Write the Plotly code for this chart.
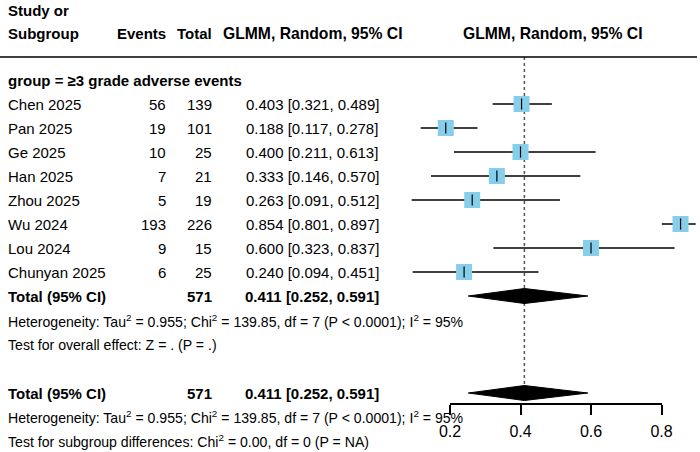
import plotly.graph_objects as go

# ---------------- data ----------------
studies = ["Chen 2025", "Pan 2025", "Ge 2025", "Han 2025", "Zhou 2025",
           "Wu 2024", "Lou 2024", "Chunyan 2025"]
events = [56, 19, 10, 7, 5, 193, 9, 6]
totals = [139, 101, 25, 21, 19, 226, 15, 25]
est = [0.403, 0.188, 0.400, 0.333, 0.263, 0.854, 0.600, 0.240]
ci_lo = [0.321, 0.117, 0.211, 0.146, 0.091, 0.801, 0.323, 0.094]
ci_hi = [0.489, 0.278, 0.613, 0.570, 0.512, 0.897, 0.837, 0.451]
pooled_total = 571
pooled_est = 0.411
pooled_lo = 0.252
pooled_hi = 0.591
tick_vals = [0.2, 0.4, 0.6, 0.8]
tick_text = ["0.2", "0.4", "0.6", "0.8"]
group_label = "group = \u22653 grade adverse events"
het_text = ("Heterogeneity: Tau<sup>2</sup> = 0.955; Chi<sup>2</sup> = 139.85, "
            "df = 7 (P < 0.0001); I<sup>2</sup> = 95%")
overall_text = "Test for overall effect: Z = . (P = .)"
subgroup_text = "Test for subgroup differences: Chi<sup>2</sup> = 0.00, df = 0 (P = NA)"

# ---------------- layout constants ----------------
W, H = 700, 452
AX_L, AX_R = 450, 661.5          # pixel positions of 0.2 and 0.8
PX_PER = (AX_R - AX_L) / 0.6
def px_to_val(px):
    return 0.2 + (px - AX_L) / PX_PER

FONT = "Liberation Sans, Arial, Helvetica, sans-serif"
FS = 15
FSB = 15
FS_HEAD = 15.7
FS_SMALL = 14.1
ROW0, DY = 104, 24
rows_y = [ROW0 + DY * i for i in range(len(studies))]
total_y = ROW0 + DY * len(studies)
het_y = total_y + 25
overall_y = het_y + 24
total2_y = 393
het2_y = 417
sub_y = 441
header_line_y = 57
axis_y = 403
diamond_h = 7.5

fig = go.Figure()

# reference (dotted) line at pooled estimate
fig.add_trace(go.Scatter(x=[pooled_est, pooled_est], y=[header_line_y, total2_y],
                         mode="lines", line=dict(color="#555555", width=1.5, dash="dot"),
                         hoverinfo="skip", showlegend=False))

# CI lines
for y, l, h in zip(rows_y, ci_lo, ci_hi):
    fig.add_trace(go.Scatter(x=[l, h], y=[y, y], mode="lines",
                             line=dict(color="black", width=1.5),
                             hoverinfo="skip", showlegend=False))

# squares
fig.add_trace(go.Scatter(x=est, y=rows_y, mode="markers",
                         marker=dict(symbol="square", size=16, color="#87CEEB",
                                     line=dict(width=0)),
                         hoverinfo="skip", showlegend=False))
# small tick at estimate
fig.add_trace(go.Scatter(x=est, y=rows_y, mode="markers",
                         marker=dict(symbol="line-ns", size=8,
                                     line=dict(width=1.2, color="black")),
                         hoverinfo="skip", showlegend=False))

# diamonds
for yc in [total_y, total2_y]:
    fig.add_trace(go.Scatter(
        x=[pooled_lo, pooled_est, pooled_hi, pooled_est, pooled_lo],
        y=[yc, yc - diamond_h, yc, yc + diamond_h, yc],
        mode="lines", fill="toself", fillcolor="black",
        line=dict(color="black", width=1), hoverinfo="skip", showlegend=False))

# invisible trace for the bottom axis
fig.add_trace(go.Scatter(x=tick_vals, y=[0] * len(tick_vals), xaxis="x2", yaxis="y2",
                         mode="markers", marker=dict(opacity=0),
                         hoverinfo="skip", showlegend=False))

# header line
fig.add_shape(type="line", xref="paper", yref="y", x0=0, x1=697 / W,
              y0=header_line_y, y1=header_line_y, line=dict(color="black", width=1.5))

ann = []
def txt(x_px, y, text, anchor="left", bold=False, size=FS):
    t = f"<b>{text}</b>" if bold else text
    ann.append(dict(x=x_px / W, xref="paper", y=y, yref="y", text=t, showarrow=False,
                    xanchor=anchor, yanchor="middle",
                    font=dict(family=FONT, size=size, color="black")))

LEFT = 6
EV_R, TOT_R, EST_C = 168, 214, 312
# headers
txt(LEFT, 10, "Study or", bold=True, size=FSB)
txt(LEFT, 33, "Subgroup", bold=True, size=FSB)
txt(EV_R, 33, "Events", "right", True, FSB)
txt(TOT_R, 33, "Total", "right", True, FSB)
txt(313, 33, "GLMM, Random, 95% CI", "center", True, FS_HEAD)
txt(553, 33, "GLMM, Random, 95% CI", "center", True, FS_HEAD)
txt(LEFT, 80, group_label, bold=True, size=FSB)

for y, s, e, n, m, l, h in zip(rows_y, studies, events, totals, est, ci_lo, ci_hi):
    txt(LEFT, y, s)
    txt(EV_R, y, str(e), "right")
    txt(TOT_R, y, str(n), "right")
    txt(EST_C, y, f"{m:.3f} [{l:.3f}, {h:.3f}]", "center")

pooled_str = f"{pooled_est:.3f} [{pooled_lo:.3f}, {pooled_hi:.3f}]"
for ty in [total_y, total2_y]:
    txt(LEFT, ty, "Total (95% CI)", bold=True, size=FSB)
    txt(TOT_R, ty, str(pooled_total), "right", True, FSB)
    txt(EST_C, ty, pooled_str, "center", True, FSB)
txt(LEFT, het_y, het_text, size=FS_SMALL)
txt(LEFT, overall_y, overall_text, size=FS_SMALL)
txt(LEFT, het2_y, het_text, size=FS_SMALL)
txt(LEFT, sub_y, subgroup_text, size=FS_SMALL)

fig.update_layout(
    template="none",
    width=W, height=H, margin=dict(l=0, r=0, t=0, b=0, pad=0, autoexpand=False),
    autosize=False,
    paper_bgcolor="white", plot_bgcolor="rgba(0,0,0,0)",
    showlegend=False, annotations=ann,
    font=dict(family=FONT, size=FS, color="black"),
    xaxis=dict(range=[px_to_val(0), px_to_val(W)], domain=[0, 1], visible=False,
               fixedrange=True, automargin=False),
    yaxis=dict(range=[H, 0], domain=[0, 1], visible=False, fixedrange=True,
               automargin=False),
    xaxis2=dict(domain=[AX_L / W, AX_R / W], range=[0.2, 0.8], anchor="y2",
                showline=True, linecolor="black", linewidth=1.5,
                ticks="outside", ticklen=10, tickwidth=1.5, tickcolor="black",
                ticklabelstandoff=3,
                tickvals=tick_vals, ticktext=tick_text,
                tickfont=dict(family=FONT, size=16, color="black"),
                showgrid=False, zeroline=False, fixedrange=True, automargin=False),
    yaxis2=dict(domain=[(H - axis_y) / H, (H - axis_y + 5) / H], visible=False,
                anchor="x2", fixedrange=True, automargin=False),
)

fig.write_html("out.html")
